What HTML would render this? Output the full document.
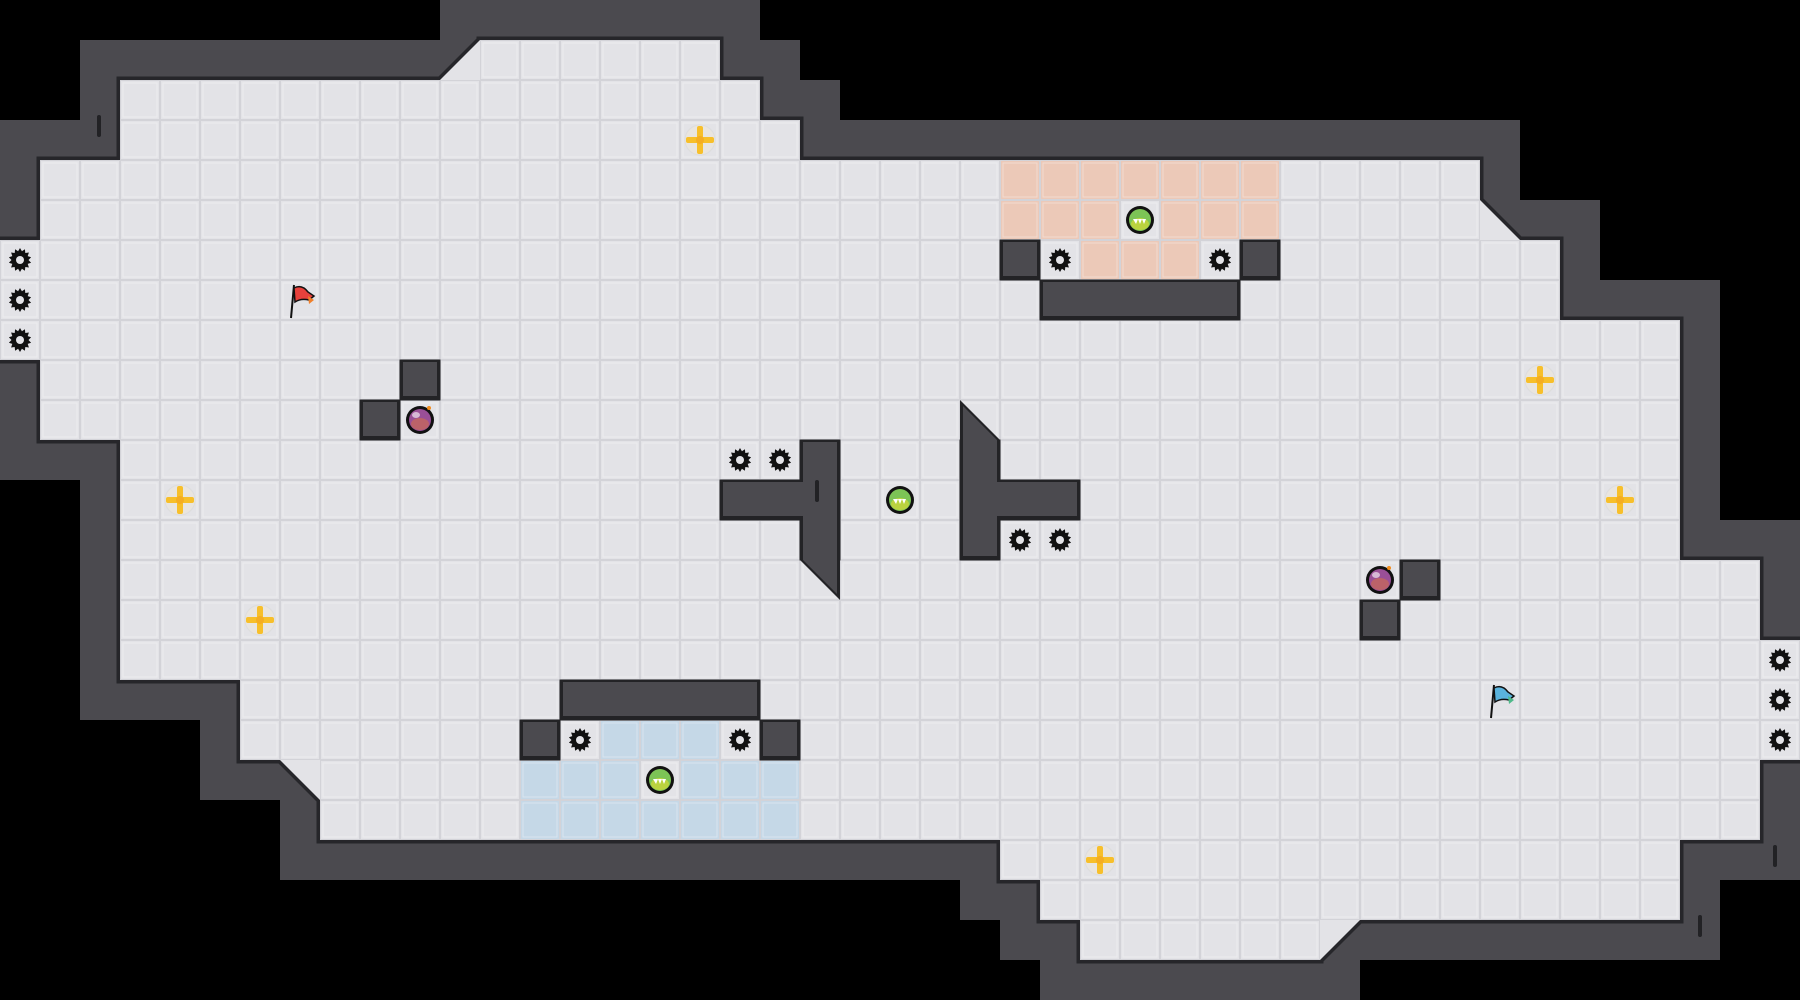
<!DOCTYPE html>
<html><head><meta charset="utf-8"><style>
html,body{margin:0;padding:0;background:#000;width:1800px;height:1000px;overflow:hidden}
svg{display:block}
</style></head><body>
<svg id="s" width="1800" height="1000" viewBox="0 0 1800 1000" xmlns="http://www.w3.org/2000/svg">
<rect width="1800" height="1000" fill="#000"/>
<g id="walls"></g><g id="floorEdge"></g><g id="floor"></g><g id="tint"></g><g id="obs"></g><g id="items"></g>
</svg>
<script>
var C=40,NS="http://www.w3.org/2000/svg";
function el(p,t,a){var e=document.createElementNS(NS,t);for(var k in a)e.setAttribute(k,a[k]);document.getElementById(p).appendChild(e);return e;}
var rows={1:[12,17],2:[3,18],3:[3,19],4:[1,36],5:[1,36],6:[0,38],7:[0,38],8:[0,41],9:[1,41],10:[1,41],11:[3,41],12:[3,41],13:[3,41],14:[3,43],15:[3,43],16:[3,44],17:[6,44],18:[6,44],19:[8,43],20:[8,43],21:[25,41],22:[26,41],23:[27,32]};
var F={};for(var r in rows){for(var c=rows[r][0];c<=rows[r][1];c++)F[r+","+c]=1;}
var W={};
for(var k in F){var p=k.split(",").map(Number);for(var dr=-1;dr<=1;dr++)for(var dc=-1;dc<=1;dc++){var kk=(p[0]+dr)+","+(p[1]+dc);if(!F[kk])W[kk]=1;}}
var diags=[[1,11,"480,40 480,80 440,80"],[5,37,"1480,200 1480,240 1520,240"],[19,7,"280,760 320,760 320,800"],[23,33,"1320,920 1360,920 1320,960"]];
diags.forEach(function(d){W[d[0]+","+d[1]]=1;});
delete W["0,10"];delete W["24,34"];
for(var k in W){var p=k.split(",").map(Number);if(p[0]<0||p[1]<0||p[1]>44||p[0]>24)continue;el("walls","rect",{x:p[1]*C,y:p[0]*C,width:C,height:C,fill:"#4b4a4f"});}
// floor edge darkening
for(var k in F){var p=k.split(",").map(Number);el("floorEdge","rect",{x:p[1]*C,y:p[0]*C,width:C,height:C,fill:"#26262a",stroke:"#26262a","stroke-width":7});}
diags.forEach(function(d){el("floorEdge","polygon",{points:d[2],fill:"#26262a",stroke:"#26262a","stroke-width":7,"stroke-linejoin":"round"});});
function cell(g,r,c,fill){
 el(g,"rect",{x:c*C,y:r*C,width:C,height:C,fill:"#d3d3d8"});
 el(g,"rect",{x:c*C+1,y:r*C+1,width:C-2,height:C-2,fill:fill});
 el(g,"rect",{x:c*C+3,y:r*C+3,width:C-6,height:C-6,fill:fill,stroke:"rgba(255,255,255,0.35)","stroke-width":1});
}
for(var k in F){var p=k.split(",").map(Number);cell("floor",p[0],p[1],"#e3e3e7");}
diags.forEach(function(d){el("floor","polygon",{points:d[2],fill:"#e3e3e7"});});
var peach=[],blue=[];
for(var c=25;c<=31;c++){peach.push([4,c]);if(c!=28)peach.push([5,c]);}
for(var c=27;c<=29;c++)peach.push([6,c]);
for(var c=15;c<=17;c++)blue.push([18,c]);
for(var c=13;c<=19;c++){if(c!=16)blue.push([19,c]);blue.push([20,c]);}
peach.forEach(function(a){cell("tint",a[0],a[1],"#ecc9b8");});
blue.forEach(function(a){cell("tint",a[0],a[1],"#c5d8e7");});
// obstacles
var obs=[[9,10],[10,9],[14,35],[15,34],[6,25],[6,31],[18,13],[18,19],[11,20],[12,20],[13,20],[12,18],[12,19],[11,24],[12,24],[13,24],[12,25],[12,26]];
for(var c=26;c<=30;c++)obs.push([7,c]);
for(var c=14;c<=18;c++)obs.push([17,c]);
var tris=["800,560 840,560 840,600","960,400 1000,440 960,440"];
obs.forEach(function(a){el("obs","rect",{x:a[1]*C,y:a[0]*C,width:C,height:C,fill:"#232326",stroke:"#232326","stroke-width":1});});
tris.forEach(function(t){el("obs","polygon",{points:t,fill:"#232326"});});
obs.forEach(function(a){el("obs","rect",{x:a[1]*C+3,y:a[0]*C+2,width:C-6,height:C-6,fill:"#4b4a4f"});});
// merge interiors
[[11,20,12,20],[12,20,13,20],[12,18,12,19],[12,19,12,20],[11,24,12,24],[12,24,13,24],[12,24,12,25],[12,25,12,26],[9,10,10,10]].forEach(function(m){
 var x1=Math.min(m[1],m[3])*C+3,y1=Math.min(m[0],m[2])*C+2,x2=Math.max(m[1],m[3])*C+C-3,y2=Math.max(m[0],m[2])*C+C-4;
 if(m[0]==9)return;
 el("obs","rect",{x:x1,y:y1,width:x2-x1,height:y2-y1,fill:"#4b4a4f"});});
for(var c=26;c<30;c++)el("obs","rect",{x:c*C+3,y:7*C+2,width:C*2-6,height:C-6,fill:"#4b4a4f"});
for(var c=14;c<18;c++)el("obs","rect",{x:c*C+3,y:17*C+2,width:C*2-6,height:C-6,fill:"#4b4a4f"});
el("obs","polygon",{points:"803,560 837,560 837,594",fill:"#4b4a4f"});
el("obs","polygon",{points:"963,406 997,440 963,440",fill:"#4b4a4f"});
el("obs","rect",{x:963,y:440,width:34,height:10,fill:"#4b4a4f"});
el("obs","rect",{x:803,y:550,width:34,height:10,fill:"#4b4a4f"});
// wall decor marks
[[97,115],[1773,845],[1698,915],[815,480]].forEach(function(m){el("obs","rect",{x:m[0],y:m[1],width:4,height:22,rx:2,fill:"#222225"});});
// items
function gear(r,c){var cx=c*C+20,cy=r*C+20,pts=[];for(var i=0;i<28;i++){var a=i*Math.PI/14,rr=(i%2?9:12);pts.push((cx+rr*Math.sin(a)*0.95).toFixed(1)+","+(cy-rr*Math.cos(a)).toFixed(1));}
 el("items","polygon",{points:pts.join(" "),fill:"#111"});el("items","circle",{cx:cx,cy:cy,r:4,fill:"#e3e3e7"});}
[[6,0],[7,0],[8,0],[6,26],[6,30],[11,18],[11,19],[13,25],[13,26],[18,14],[18,18],[16,44],[17,44],[18,44]].forEach(function(a){gear(a[0],a[1]);});
function cross(r,c){var cx=c*C+20,cy=r*C+20;
 el("items","ellipse",{cx:cx,cy:cy,rx:15,ry:15,fill:"#e9e5df",stroke:"#ddd","stroke-width":1});
 el("items","rect",{x:cx-14,y:cy-3,width:28,height:6,rx:2,fill:"#f7bf2a"});
 el("items","rect",{x:cx-3,y:cy-14,width:6,height:28,rx:2,fill:"#f7bf2a"});
 el("items","circle",{cx:cx,cy:cy,r:4,fill:"#f5ad22"});}
[[3,17],[9,38],[12,4],[12,40],[15,6],[21,27]].forEach(function(a){cross(a[0],a[1]);});
function orb(r,c,green){var cx=c*C+20,cy=r*C+20;
 el("items","circle",{cx:cx,cy:cy,r:14,fill:"#111"});
 el("items","circle",{cx:cx,cy:cy,r:11,fill:green?"#7cc456":"#9a4f97"});
 el("items","ellipse",{cx:cx,cy:cy+4,rx:9,ry:6,fill:green?"#c9d63a":"#c4675e",opacity:0.8});
 if(green){el("items","path",{d:"M"+(cx-7)+" "+(cy-1)+" l3 5 l2-5 l2 5 l2-5 l2 5 l2-5 z",fill:"#fff"});}
 else{el("items","ellipse",{cx:cx-4,cy:cy-5,rx:4,ry:3,fill:"#fff",opacity:0.6});el("items","circle",{cx:cx+9,cy:cy-12,r:2,fill:"#f08a1c"});}}
orb(5,28,1);orb(12,22,1);orb(19,16,1);orb(10,10,0);orb(14,34,0);
function flag(r,c,col,col2){var x=c*C+20,y=r*C+20;
 el("items","line",{x1:x-9,y1:y+18,x2:x-6,y2:y-15,stroke:"#111","stroke-width":2});
 el("items","path",{d:"M"+(x-6)+" "+(y-12)+" q8 -4 14 4 l6 4 l-5 4 q-8 -2 -14 2 z",fill:col,stroke:"#111","stroke-width":1.5});
 el("items","path",{d:"M"+(x+8)+" "+(y-4)+" l6 4 l-5 4 z",fill:col2});}
flag(7,7,"#e8413c","#f07f2a");flag(17,37,"#5ab3dd","#4fb98a");
</script>
</body></html>
